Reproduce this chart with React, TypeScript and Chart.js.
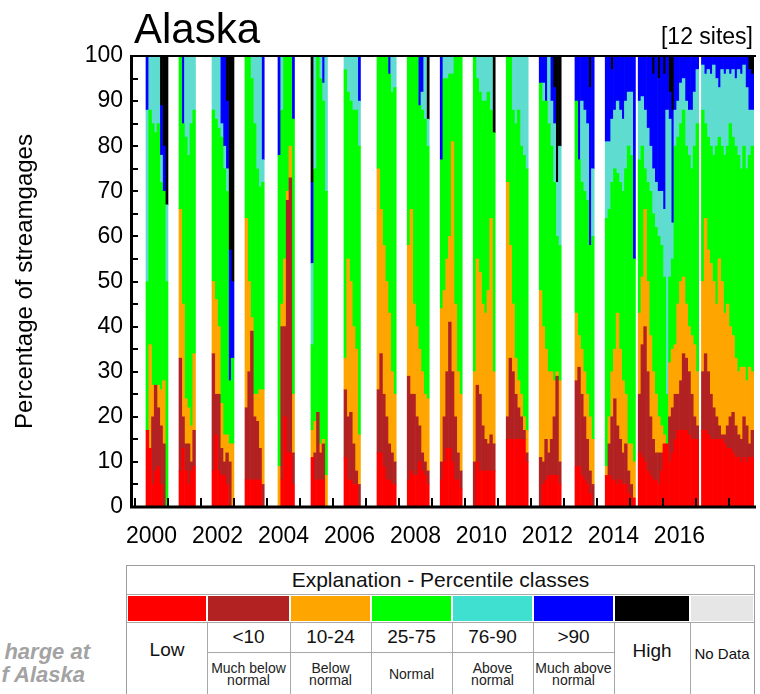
import { useEffect, useRef } from "react";
import { Chart, registerables } from "chart.js";

Chart.register(...registerables);

// ---- DATA ----
// Monthly periods with data (winter gaps have no data before 2014)
const periods = [
  "2000-05","2000-06","2000-07","2000-08","2000-09","2000-10","2000-11","2000-12",
  "2001-05","2001-06","2001-07","2001-08","2001-09","2001-10",
  "2002-05","2002-06","2002-07","2002-08","2002-09","2002-10","2002-11","2002-12",
  "2003-05","2003-06","2003-07","2003-08","2003-09","2003-10","2003-11",
  "2004-05","2004-06","2004-07","2004-08","2004-09","2004-10",
  "2005-05","2005-06","2005-07","2005-08","2005-09","2005-10",
  "2006-05","2006-06","2006-07","2006-08","2006-09","2006-10",
  "2007-05","2007-06","2007-07","2007-08","2007-09","2007-10","2007-11",
  "2008-04","2008-05","2008-06","2008-07","2008-08","2008-09","2008-10","2008-11",
  "2009-04","2009-05","2009-06","2009-07","2009-08","2009-09","2009-10","2009-11",
  "2010-04","2010-05","2010-06","2010-07","2010-08","2010-09","2010-10","2010-11",
  "2011-04","2011-05","2011-06","2011-07","2011-08","2011-09","2011-10","2011-11",
  "2012-04","2012-05","2012-06","2012-07","2012-08","2012-09","2012-10","2012-11",
  "2013-05","2013-06","2013-07","2013-08","2013-09","2013-10","2013-11",
  "2014-04","2014-05","2014-06","2014-07","2014-08","2014-09","2014-10","2014-11","2014-12",
  "2015-01","2015-02","2015-04","2015-05","2015-06","2015-07","2015-08","2015-09","2015-10","2015-11","2015-12",
  "2016-01","2016-02","2016-03","2016-04","2016-05","2016-06","2016-07","2016-08","2016-09","2016-10","2016-11","2016-12",
  "2017-01","2017-03","2017-04","2017-05","2017-06","2017-07","2017-08","2017-09","2017-10","2017-11","2017-12",
  "2018-01","2018-02","2018-03","2018-04","2018-05","2018-06","2018-07","2018-08","2018-09",
];

// Cumulative percentage at the top of each class (High fills up to 100)
const lowTop = [
  17,13,5,8,9,5,0,0,
  8,13,8,5,8,9,
  8,16,8,7,7,5,0,0,
  6,6,6,6,6,6,0,
  0,6,20,12,12,5,
  11,6,6,6,6,0,
  11,6,6,5,5,0,
  12,12,9,6,6,5,5,
  6,8,7,7,10,8,7,5,
  6,10,13,13,10,6,6,4,
  0,10,8,8,8,8,8,8,
  15,15,15,15,15,15,15,10,
  0,5,6,7,7,7,7,5,
  9,9,7,6,5,3,0,
  7,7,6,6,5,6,5,5,3,
  2,2,12,11,10,8,7,6,6,5,8,
  14,14,10,12,15,17,17,17,17,16,15,15,
  15,17,17,16,15,15,15,15,15,14,13,
  13,12,11,11,10,11,10,11,11,
];
const muchBelowTop = [
  17,13,20,27,22,18,14,0,
  33,20,14,14,10,17,
  34,25,25,13,10,12,10,0,
  22,30,39,20,19,13,5,
  0,40,40,68,73,12,
  11,12,21,12,14,0,
  26,20,21,14,8,5,
  26,34,25,20,14,12,10,
  29,25,25,20,18,12,10,8,
  10,20,30,41,30,20,12,8,
  10,27,25,18,15,14,16,14,
  20,33,30,25,22,20,17,12,
  11,10,15,12,15,20,29,10,
  28,31,25,20,15,8,5,
  7,14,20,24,18,15,12,14,8,
  5,2,25,36,40,30,20,15,12,12,12,
  14,14,20,22,25,25,28,34,33,30,25,20,
  18,30,34,30,25,22,20,18,16,16,18,
  20,21,18,16,15,20,18,14,17,
];
const belowTop = [
  17,36,27,27,27,26,28,0,
  66,45,24,22,18,34,
  50,46,40,23,16,16,14,14,
  64,50,42,25,25,26,26,
  9,45,55,70,80,25,
  17,19,21,14,15,7,
  33,55,50,40,35,16,
  75,66,58,50,43,30,25,
  58,66,45,40,35,30,25,24,
  44,48,55,60,81,45,30,25,
  30,55,52,45,43,48,64,30,
  72,58,45,33,28,25,20,17,
  48,40,35,30,30,28,30,28,
  43,38,35,30,25,20,15,
  9,20,30,35,43,35,28,25,14,
  14,10,43,51,66,50,38,30,25,20,18,
  16,14,32,35,36,45,50,51,45,40,38,36,
  30,50,64,57,54,50,45,55,50,43,45,
  40,38,33,30,31,31,28,31,30,
];
const normalTop = [
  50,88,85,83,85,72,70,50,
  100,85,82,78,85,88,
  88,86,84,82,75,70,28,33,
  100,100,95,85,75,71,72,
  78,88,100,100,100,86,
  36,75,100,95,90,70,
  97,92,90,88,88,80,
  100,100,100,100,96,92,93,
  100,100,100,100,89,88,86,80,
  77,95,95,96,96,100,100,100,
  100,95,92,90,90,92,88,83,
  100,100,88,85,88,80,78,75,
  94,90,90,85,80,72,60,58,
  90,77,72,70,68,58,60,
  64,66,72,75,74,72,70,75,80,
  78,55,77,80,75,72,70,65,62,60,58,
  51,25,51,55,80,82,85,88,80,78,75,80,
  85,88,85,82,80,78,80,82,80,78,80,
  85,82,80,78,75,80,75,78,80,
];
const aboveTop = [
  88,100,100,100,100,78,70,67,
  100,85,100,100,100,100,
  100,100,100,85,80,75,28,33,
  100,100,100,100,100,100,77,
  78,100,100,100,100,86,
  54,100,100,100,94,100,
  100,100,100,100,100,90,
  100,100,100,100,96,100,100,
  100,100,100,100,89,92,100,86,
  77,100,100,100,100,100,100,100,
  100,100,100,100,100,100,100,83,
  100,100,100,100,100,100,100,100,
  94,94,90,100,90,85,72,80,
  90,77,90,88,85,58,75,
  81,81,86,88,90,88,86,90,92,
  92,55,90,91,88,84,80,75,72,70,70,
  66,88,86,63,88,90,94,95,90,88,88,92,
  97,98,96,97,96,98,95,93,97,96,97,
  96,97,95,97,96,98,93,88,88,
];
const muchAboveTop = [
  100,100,100,100,100,89,80,67,
  100,100,100,100,100,100,
  100,100,100,100,100,90,57,50,
  100,100,100,100,100,100,100,
  100,100,100,100,100,100,
  72,100,100,100,100,100,
  100,100,100,100,100,100,
  100,100,100,100,100,100,100,
  100,100,100,100,100,100,100,86,
  100,100,100,100,100,100,100,100,
  100,100,100,100,100,100,100,83,
  100,100,100,100,100,100,100,100,
  100,100,100,100,100,93,72,80,
  100,100,100,100,100,93,100,
  100,100,97,100,100,100,100,100,100,
  100,100,100,100,100,100,100,96,100,95,100,
  96,100,92,88,100,100,100,100,100,100,100,100,
  100,100,100,100,100,100,100,100,100,100,100,
  100,100,100,100,100,100,100,97,96,
];

const yearTickMarks = [2000,2001,2002,2003,2004,2005,2006,2007,2008,2009,2010,2011,2012,2013,2014,2015,2016,2017,2018];
const yearLabels = [2000,2002,2004,2006,2008,2010,2012,2014,2016];

const classNames = ["Low","<10","10-24","25-75","76-90",">90","High","No Data"];
const rangeLabels = ["<10","10-24","25-75","76-90",">90"];
const descLabels = [["Much below","normal"],["Below","normal"],["Normal"],["Above","normal"],["Much above","normal"]];

// ---- STYLE ----
const FONT = '"Liberation Sans", Arial, Helvetica, sans-serif';
const chartColors = ["#ff0000","#b22222","#ffa500","#00ff00","#5fdcd0","#0000ff","#000000"];
const legendColors = ["#ff0000","#b22222","#ffa500","#00ff00","#40e0d0","#0000ff","#000000","#e6e6e6"];
const X_MIN = 1999.879;
const X_MAX = 2018.79;

const toX = (p: string) => {
  const [y, m] = p.split("-").map(Number);
  return y + (m - 0.5) / 12;
};

const framePlugin = {
  id: "frame",
  afterDatasetsDraw(chart: any) {
    const { ctx, chartArea: a, scales } = chart;
    const xs = scales.x;
    const ys = scales.y;
    ctx.save();
    ctx.strokeStyle = "#000";
    ctx.lineWidth = 2;
    ctx.beginPath();
    for (let v = 0; v <= 100; v += 5) {
      const py = Math.round(ys.getPixelForValue(v));
      ctx.moveTo(a.left, py);
      ctx.lineTo(a.left + 7, py);
    }
    for (const yr of yearTickMarks) {
      const px = Math.round(xs.getPixelForValue(yr));
      ctx.moveTo(px, a.bottom);
      ctx.lineTo(px, a.bottom - 9);
    }
    ctx.stroke();
    // frame lines
    ctx.lineWidth = 2;
    ctx.beginPath();
    ctx.moveTo(a.left, a.top);
    ctx.lineTo(a.right + 1, a.top);
    ctx.stroke();
    ctx.lineWidth = 3;
    ctx.beginPath();
    ctx.moveTo(a.left + 0.5, a.top - 1);
    ctx.lineTo(a.left + 0.5, a.bottom + 1.5);
    ctx.moveTo(a.left, a.bottom);
    ctx.lineTo(a.right + 1, a.bottom);
    ctx.stroke();
    // titles
    ctx.fillStyle = "#000";
    ctx.textBaseline = "alphabetic";
    ctx.textAlign = "left";
    ctx.font = `42px ${FONT}`;
    ctx.fillText("Alaska", a.left + 3, 43);
    ctx.textAlign = "right";
    ctx.font = `23px ${FONT}`;
    ctx.fillText("[12 sites]", a.right - 2, 44);
    ctx.restore();
  },
};

export default function App() {
  const ref = useRef<HTMLCanvasElement>(null);

  useEffect(() => {
    const tops = [lowTop, muchBelowTop, belowTop, normalTop, aboveTop, muchAboveTop];
    const datasets = chartColors.map((color, k) => ({
      label: classNames[k],
      backgroundColor: color,
      borderWidth: 0,
      grouped: false,
      barPercentage: 1,
      categoryPercentage: 1,
      data: periods
        .map((p, i) => {
          const lo = k === 0 ? 0 : tops[k - 1][i];
          const hi = k === 6 ? 100 : tops[k][i];
          return hi > lo ? { x: toX(p), y: [lo, hi] } : null;
        })
        .filter((d) => d !== null),
    }));

    const chart = new Chart(ref.current as HTMLCanvasElement, {
      type: "bar",
      data: { datasets } as any,
      options: {
        responsive: false,
        animation: false,
        events: [],
        layout: { padding: { left: 0, right: 5, top: 56, bottom: 0 } },
        plugins: {
          legend: { display: false },
          tooltip: { enabled: false },
          title: { display: false },
        },
        scales: {
          x: {
            type: "linear",
            min: X_MIN,
            max: X_MAX,
            offset: false,
            grid: { display: false, drawTicks: false },
            border: { display: false },
            ticks: {
              autoSkip: false,
              maxRotation: 0,
              padding: 16,
              color: "#000",
              font: { family: FONT, size: 23 },
              callback: (v: any) => String(Math.floor(Number(v))),
            },
            afterBuildTicks: (s: any) => {
              s.ticks = yearLabels.map((y) => ({ value: y + 0.5 }));
            },
            afterFit: (s: any) => {
              s.height = 53;
            },
          },
          y: {
            min: 0,
            max: 100,
            grid: { display: false, drawTicks: false },
            border: { display: false },
            ticks: {
              stepSize: 10,
              padding: 8,
              color: "#000",
              font: { family: FONT, size: 23 },
            },
            title: {
              display: true,
              text: "Percentage of streamgages",
              color: "#000",
              font: { family: FONT, size: 24 },
              padding: { top: 11, bottom: 0 },
            },
            afterFit: (s: any) => {
              s.width = 131;
            },
          },
        } as any,
      },
      plugins: [framePlugin],
    } as any);
    return () => chart.destroy();
  }, []);

  const cols = [127, 207, 290, 371, 452, 533, 614, 690, 754];
  const line = (left: number, top: number, w: number, h: number, key: string) => (
    <div key={key} style={{ position: "absolute", left, top, width: w, height: h, background: "#a8a8a8" }} />
  );

  return (
    <div
      style={{
        position: "absolute",
        left: 0,
        top: 0,
        width: 760,
        height: 694,
        overflow: "hidden",
        background: "#fff",
        fontFamily: FONT,
        color: "#111",
      }}
    >
      <canvas ref={ref} width={760} height={560} style={{ position: "absolute", left: 0, top: 0, width: 760, height: 560 }} />

      {/* clipped caption at left */}
      <div style={{ position: "absolute", right: 670, top: 641, fontSize: 22, lineHeight: "22px", fontWeight: "bold", fontStyle: "italic", color: "#a3a3a3", whiteSpace: "nowrap" }}>
        harge at
      </div>
      <div style={{ position: "absolute", right: 675, top: 664, fontSize: 22, lineHeight: "22px", fontWeight: "bold", fontStyle: "italic", color: "#a3a3a3", whiteSpace: "nowrap" }}>
        f Alaska
      </div>

      {/* legend table */}
      <div style={{ position: "absolute", left: 126, top: 565, width: 629, height: 140, border: "1px solid #9c9c9c", boxSizing: "border-box" }} />
      <div style={{ position: "absolute", left: 126, top: 566, width: 629, height: 28, lineHeight: "28px", textAlign: "center", fontSize: 21, color: "#111" }}>
        Explanation - Percentile classes
      </div>
      {line(126, 594, 629, 1, "h1")}
      {legendColors.map((c, i) => (
        <div key={"c" + i} style={{ position: "absolute", left: cols[i] + 1, top: 596, width: cols[i + 1] - cols[i] - 2, height: 25, background: c }} />
      ))}
      {line(126, 622, 629, 1, "h2")}
      {line(cols[1], 652, cols[6] - cols[1], 1, "h3")}
      {cols.slice(1, 8).map((x, i) => line(x, 622, 1, 80, "v" + i))}

      <div style={{ position: "absolute", left: cols[0], top: 637, width: cols[1] - cols[0], height: 26, lineHeight: "26px", textAlign: "center", fontSize: 19 }}>
        {classNames[0]}
      </div>
      {rangeLabels.map((t, i) => (
        <div key={"r" + i} style={{ position: "absolute", left: cols[i + 1], top: 623, width: cols[i + 2] - cols[i + 1], height: 28, lineHeight: "28px", textAlign: "center", fontSize: 19 }}>
          {t}
        </div>
      ))}
      <div style={{ position: "absolute", left: cols[6], top: 638, width: cols[7] - cols[6], height: 26, lineHeight: "26px", textAlign: "center", fontSize: 19 }}>
        {classNames[6]}
      </div>
      <div style={{ position: "absolute", left: cols[7], top: 642, width: cols[8] - cols[7], height: 24, lineHeight: "24px", textAlign: "center", fontSize: 15 }}>
        {classNames[7]}
      </div>
      {descLabels.map((lines, i) => (
        <div
          key={"d" + i}
          style={{
            position: "absolute",
            left: cols[i + 1],
            top: 654,
            width: cols[i + 2] - cols[i + 1],
            height: 40,
            display: "flex",
            flexDirection: "column",
            justifyContent: "center",
            alignItems: "center",
            fontSize: 14,
            lineHeight: "12px",
            color: "#222",
          }}
        >
          {lines.map((l, j) => (
            <span key={j}>{l}</span>
          ))}
        </div>
      ))}
    </div>
  );
}
